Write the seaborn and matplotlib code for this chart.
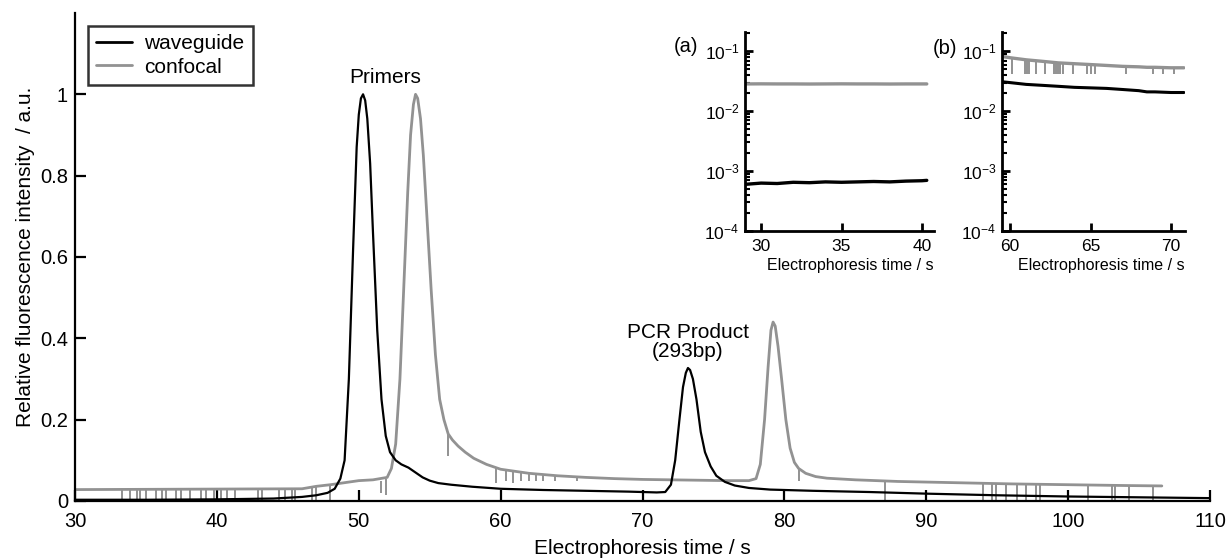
import numpy as np
import pandas as pd
import matplotlib
matplotlib.use("Agg")
import matplotlib.pyplot as plt
import seaborn as sns
from matplotlib.ticker import LogLocator, NullFormatter

# ---------------- data ----------------
wg_t = [30, 35, 40, 44, 46, 47, 47.8, 48.3, 48.7, 49.0, 49.3, 49.6, 49.85, 50.0, 50.15,
        50.3, 50.45, 50.6, 50.8, 51.0, 51.3, 51.6, 51.9, 52.2, 52.6, 53.0, 53.5, 54.0,
        54.5, 55.0, 55.6, 56.5, 58, 60, 63, 66, 69, 71, 71.6, 72.0, 72.3, 72.6, 72.85,
        73.05, 73.2, 73.35, 73.55, 73.8, 74.1, 74.4, 74.8, 75.2, 75.8, 76.5, 77.5, 79,
        82, 86, 90, 95, 100, 105, 110]
wg_y = [0.003, 0.003, 0.004, 0.006, 0.010, 0.014, 0.020, 0.030, 0.055, 0.10, 0.30, 0.62,
        0.87, 0.95, 0.99, 1.0, 0.985, 0.94, 0.83, 0.66, 0.42, 0.25, 0.16, 0.12, 0.10,
        0.09, 0.082, 0.07, 0.058, 0.05, 0.044, 0.04, 0.035, 0.03, 0.027, 0.025, 0.023,
        0.021, 0.022, 0.04, 0.10, 0.20, 0.28, 0.315, 0.327, 0.322, 0.30, 0.25, 0.17,
        0.12, 0.085, 0.062, 0.047, 0.038, 0.032, 0.028, 0.025, 0.022, 0.018, 0.014,
        0.011, 0.009, 0.007]

cf_t = [30, 46, 47, 48, 49, 50, 51, 52, 52.3, 52.6, 52.9, 53.2, 53.45, 53.65, 53.85,
        54.0, 54.15, 54.35, 54.55, 54.8, 55.1, 55.4, 55.7, 56.0, 56.3, 56.6, 57.0, 57.5,
        58.1, 59, 60, 62, 64, 66, 68, 70, 72, 74, 76, 77.5, 78.0, 78.3, 78.6, 78.85,
        79.05, 79.2, 79.35, 79.55, 79.8, 80.1, 80.4, 80.7, 81.0, 81.5, 82.2, 83, 85, 88,
        92, 96, 100, 104, 106.6]
cf_y = [0.028, 0.030, 0.036, 0.040, 0.045, 0.050, 0.052, 0.058, 0.08, 0.14, 0.30, 0.55,
        0.76, 0.90, 0.975, 1.0, 0.99, 0.94, 0.85, 0.70, 0.52, 0.36, 0.25, 0.20, 0.165,
        0.15, 0.135, 0.12, 0.105, 0.09, 0.078, 0.068, 0.062, 0.058, 0.055, 0.053, 0.052,
        0.051, 0.05, 0.05, 0.055, 0.09, 0.20, 0.33, 0.42, 0.44, 0.43, 0.38, 0.30, 0.20,
        0.13, 0.095, 0.08, 0.068, 0.06, 0.056, 0.052, 0.048, 0.045, 0.042, 0.040, 0.038,
        0.037]

# downward dropouts of the confocal trace: time, bottom, top
cf_spike_t = [33.3, 33.9, 34.4, 34.6, 35.0, 35.7, 36.1, 36.4, 37.1, 37.5, 38.1, 38.9,
              39.2, 39.8, 40.3, 40.7, 41.3, 42.9, 43.2, 44.4, 44.8, 45.3, 45.5, 46.7,
              47.0, 48.0, 51.6, 51.9, 56.3, 59.7, 60.4, 60.9, 61.4, 62.0, 62.5, 63.0,
              63.8, 65.4, 81.0, 87.1, 94.0, 94.6, 94.9, 95.6, 96.4, 97.0, 97.7, 98.0,
              101.4, 103.1, 103.3, 104.3, 106.0]
cf_spike_lo = [0.0] * 26 + [0.02, 0.015, 0.11, 0.045, 0.05, 0.045, 0.05, 0.05, 0.05,
               0.05, 0.05, 0.05, 0.05] + [0.0] * 14
cf_spike_hi = [0.028] * 23 + [0.036, 0.036, 0.04, 0.05, 0.055, 0.165, 0.08, 0.076,
               0.074, 0.072, 0.068, 0.067, 0.065, 0.063, 0.06, 0.08] + \
              [0.047, 0.044, 0.044, 0.044, 0.044, 0.043, 0.043, 0.043, 0.043, 0.04,
               0.039, 0.039, 0.038, 0.037]

# inset (a)
ia_t = [29.0, 30, 31, 32, 33, 34, 35, 36, 37, 38, 39, 40, 40.3]
ia_wg = [0.00060, 0.00063, 0.00062, 0.00065, 0.00064, 0.00066, 0.00065, 0.00066,
         0.00067, 0.00066, 0.00068, 0.00069, 0.00070]
ia_cf = [0.0285, 0.0286, 0.0285, 0.0285, 0.0284, 0.0285, 0.0286, 0.0285, 0.0285,
         0.0284, 0.0285, 0.0285, 0.0285]

# inset (b)
ib_t = [59.5, 60, 61, 62, 63, 64, 65, 66, 67, 68, 68.5, 69, 70, 70.8]
ib_wg = [0.031, 0.030, 0.028, 0.027, 0.026, 0.025, 0.0245, 0.024, 0.023, 0.022, 0.021,
         0.021, 0.0205, 0.0205]
ib_cf = [0.082, 0.078, 0.072, 0.068, 0.064, 0.062, 0.060, 0.058, 0.056, 0.055, 0.054,
         0.054, 0.053, 0.053]
ib_spike_t = [60.1, 60.9, 61.05, 61.2, 61.6, 62.2, 62.7, 62.85, 63.0, 63.1, 63.3, 63.9,
              64.8, 65.0, 65.3, 67.2, 68.9, 69.5, 70.2]
ib_spike_lo = [0.042] * 19
ib_spike_hi = [0.077, 0.072, 0.072, 0.071, 0.070, 0.068, 0.066, 0.066, 0.065, 0.065,
               0.064, 0.063, 0.061, 0.060, 0.060, 0.057, 0.054, 0.054, 0.053]

main_xticks = [30, 40, 50, 60, 70, 80, 90, 100, 110]
main_yticks = [0, 0.2, 0.4, 0.6, 0.8, 1.0]
main_yticklabels = ["0", "0.2", "0.4", "0.6", "0.8", "1"]
labels = ["waveguide", "confocal"]

# ---------------- style ----------------
sns.set_style("ticks")
plt.rcParams["font.family"] = ["Liberation Sans", "DejaVu Sans"]
plt.rcParams["mathtext.fontset"] = "custom"
plt.rcParams["mathtext.rm"] = "Liberation Sans"
for k in ["text.color", "axes.labelcolor", "xtick.color", "ytick.color", "axes.edgecolor"]:
    plt.rcParams[k] = "black"
BLACK = "#000000"
GREY = "#929292"

fig = plt.figure(figsize=(12.28, 5.59), dpi=100)
ax = fig.add_axes([0.0611, 0.1038, 0.9243, 0.873])

sns.lineplot(x=wg_t, y=wg_y, ax=ax, color=BLACK, linewidth=1.6, estimator=None,
             sort=False, label=labels[0], zorder=3)
sns.lineplot(x=cf_t, y=cf_y, ax=ax, color=GREY, linewidth=2.0, estimator=None,
             sort=False, label=labels[1], zorder=2)
ax.vlines(cf_spike_t, cf_spike_lo, cf_spike_hi, color=GREY, linewidth=1.4, zorder=2)

ax.set_xlim(30, 110)
ax.set_ylim(0, 1.2)
ax.set_xticks(main_xticks)
ax.set_yticks(main_yticks)
ax.set_yticklabels(main_yticklabels)
for s in ["top", "right"]:
    ax.spines[s].set_visible(False)
for s in ["left", "bottom"]:
    ax.spines[s].set_linewidth(1.6)
ax.tick_params(direction="in", length=8, width=1.6, labelsize=14.5)
ax.tick_params(axis="x", pad=8)
ax.tick_params(axis="y", pad=5)
ax.set_xlabel("Electrophoresis time / s", fontsize=15, labelpad=6)
ax.set_ylabel("Relative fluorescence intensity  / a.u.", fontsize=15, labelpad=4)

leg = ax.legend(loc="upper left", bbox_to_anchor=(0.0115, 0.973), frameon=True,
                fancybox=False, fontsize=15, handlelength=1.7, borderpad=0.4,
                labelspacing=0.2, handletextpad=0.6, borderaxespad=0.0)
leg.get_frame().set_edgecolor("black")
leg.get_frame().set_linewidth(1.8)
for h in leg.get_lines():
    h.set_linewidth(2.0)

ax.text(51.85, 1.042, "Primers", ha="center", va="center", fontsize=15)
ax.text(73.2, 0.39, "PCR Product\n(293bp)", ha="center", va="center", fontsize=15,
        linespacing=1.0)


def style_inset(a, xlim, xticks):
    a.set_yscale("log")
    a.set_xlim(*xlim)
    a.set_ylim(1e-4, 0.21)
    a.set_xticks(xticks)
    a.set_yticks([1e-4, 1e-3, 1e-2, 1e-1])
    a.yaxis.set_minor_locator(LogLocator(base=10, subs=np.arange(2, 10), numticks=20))
    a.yaxis.set_minor_formatter(NullFormatter())
    for s in ["top", "right"]:
        a.spines[s].set_visible(False)
    for s in ["left", "bottom"]:
        a.spines[s].set_linewidth(2.0)
    a.tick_params(which="major", direction="in", length=6, width=2.0, labelsize=12.5)
    a.tick_params(axis="x", pad=6)
    a.tick_params(axis="y", pad=4)
    a.tick_params(which="minor", direction="in", length=3.5, width=1.5)
    a.set_xlabel("Electrophoresis time / s", fontsize=11.5, labelpad=3, loc="right")
    a.set_ylabel("")
    a.patch.set_alpha(0)
    leg_ = a.get_legend()
    if leg_ is not None:
        leg_.remove()


axa = fig.add_axes([0.6067, 0.5868, 0.1539, 0.356])
sns.lineplot(x=ia_t, y=ia_cf, ax=axa, color=GREY, linewidth=2.4, estimator=None, sort=False)
sns.lineplot(x=ia_t, y=ia_wg, ax=axa, color=BLACK, linewidth=2.4, estimator=None, sort=False)
style_inset(axa, (29.0, 40.75), [30, 35, 40])

axb = fig.add_axes([0.8160, 0.5868, 0.1490, 0.356])
sns.lineplot(x=ib_t, y=ib_cf, ax=axb, color=GREY, linewidth=2.4, estimator=None, sort=False)
axb.vlines(ib_spike_t, ib_spike_lo, ib_spike_hi, color=GREY, linewidth=1.4)
sns.lineplot(x=ib_t, y=ib_wg, ax=axb, color=BLACK, linewidth=2.2, estimator=None, sort=False)
style_inset(axb, (59.5, 70.87), [60, 65, 70])

fig.text(686 / 1228, 1 - 47 / 559, "(a)", ha="center", va="center", fontsize=14.5)
fig.text(945 / 1228, 1 - 48 / 559, "(b)", ha="center", va="center", fontsize=14.5)

fig.savefig("out.png", dpi=100)
